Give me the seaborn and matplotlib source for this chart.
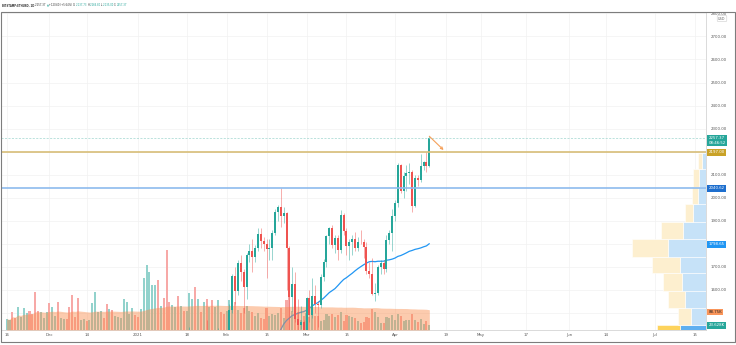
import numpy as np
import pandas as pd
import matplotlib
matplotlib.use("Agg")
import matplotlib.pyplot as plt
import seaborn as sns
from matplotlib.transforms import blended_transform_factory, Affine2D, offset_copy
from matplotlib.patches import Rectangle

# ---------------- data ----------------
start_date = "2020-11-16"

opens = [448, 460, 481, 479, 471, 509, 549, 558, 608, 604, 569, 518, 517, 538, 575,
         614, 587, 598, 616, 569, 596, 601, 591, 574, 573, 559, 545, 568, 590, 586, 589, 636, 642, 654, 659, 639, 609, 634, 584, 612, 625, 635, 683, 730, 731, 751,
         737, 730, 775, 978, 1041, 1100, 1208, 1225, 1224, 1281, 1262, 1090, 1043, 1130, 1218, 1171, 1233, 1230, 1257, 1377, 1382, 1121, 1236, 1231, 1391, 1324, 1357, 1253, 1331, 1381, 1378,
         1314, 1369, 1514, 1660, 1594, 1718, 1677, 1614, 1751, 1769, 1743, 1784, 1843, 1813, 1800, 1778, 1781, 1848, 1938, 1960, 1919, 1935, 1781, 1570, 1626, 1475, 1446, 1459,
         1416, 1564, 1492, 1575, 1541, 1533, 1654, 1723, 1835, 1868, 1796, 1826, 1772, 1924, 1854, 1792, 1807, 1823, 1783, 1810, 1806, 1786, 1682, 1669, 1581, 1587, 1701, 1715, 1691, 1817, 1846,
         1919, 1977, 2142, 2028, 2093, 2107, 2112, 1964, 2084, 2076, 2136, 2157, 2137.73]
highs = [463, 484, 495, 482, 512, 551, 560, 612, 621, 617, 576, 530, 546, 580, 616,
         635, 600, 620, 622, 598, 605, 605, 593, 577, 574, 560, 570, 595, 593, 595, 637, 676, 656, 666, 666, 648, 636, 636, 614, 627, 640, 702, 749, 738, 754, 754,
         749, 787, 1011, 1158, 1133, 1210, 1280, 1265, 1300, 1348, 1263, 1150, 1140, 1250, 1250, 1280, 1260, 1275, 1440, 1390, 1385, 1250, 1270, 1410, 1470, 1370, 1358, 1350, 1435, 1400, 1380,
         1375, 1540, 1670, 1700, 1730, 1750, 1690, 1760, 1800, 1820, 1795, 1870, 1870, 1830, 1820, 1820, 1860, 1950, 1970, 2041, 1960, 1938, 1790, 1700, 1680, 1560, 1530, 1470,
         1570, 1600, 1650, 1620, 1550, 1670, 1735, 1840, 1875, 1880, 1840, 1840, 1945, 1935, 1870, 1820, 1840, 1850, 1830, 1860, 1820, 1810, 1720, 1740, 1630, 1710, 1730, 1730, 1840, 1860, 1950,
         1990, 2150, 2145, 2110, 2140, 2150, 2120, 2100, 2100, 2190, 2160, 2200, 2266.80]
lows = [440, 455, 463, 456, 468, 506, 520, 555, 583, 560, 485, 490, 505, 530, 569,
        566, 568, 591, 560, 563, 583, 582, 562, 530, 551, 534, 543, 563, 580, 578, 582, 629, 625, 641, 630, 599, 591, 571, 570, 597, 619, 625, 677, 693, 720, 715,
        716, 715, 768, 900, 984, 1064, 1170, 1100, 1202, 1170, 900, 1010, 1000, 1110, 1080, 1150, 1160, 1190, 1240, 1250, 1100, 1050, 1200, 1220, 1310, 1250, 1220, 1230, 1270, 1320, 1290,
        1290, 1350, 1500, 1540, 1580, 1640, 1500, 1560, 1720, 1680, 1720, 1770, 1780, 1770, 1650, 1730, 1730, 1840, 1900, 1875, 1890, 1600, 1370, 1510, 1460, 1400, 1430, 1290,
        1410, 1460, 1480, 1500, 1440, 1520, 1640, 1700, 1800, 1780, 1760, 1730, 1760, 1840, 1750, 1730, 1750, 1770, 1770, 1800, 1740, 1670, 1650, 1580, 1550, 1580, 1670, 1670, 1680, 1800, 1770,
        1900, 1960, 2020, 2000, 2030, 2060, 1940, 1960, 2050, 2070, 2120, 2110, 2135.00]
closes = [460, 481, 479, 471, 509, 549, 558, 608, 604, 569, 518, 517, 538, 575, 614,
          587, 598, 616, 569, 596, 601, 591, 574, 573, 559, 545, 568, 590, 586, 589, 636, 642, 654, 659, 639, 609, 634, 584, 612, 625, 635, 683, 730, 731, 751, 737,
          730, 775, 978, 1041, 1100, 1208, 1225, 1224, 1281, 1262, 1090, 1043, 1130, 1218, 1171, 1233, 1230, 1257, 1377, 1382, 1121, 1236, 1231, 1391, 1324, 1357, 1253, 1331, 1381, 1378, 1314,
          1369, 1514, 1660, 1594, 1718, 1677, 1614, 1751, 1769, 1743, 1784, 1843, 1813, 1800, 1778, 1781, 1848, 1938, 1960, 1919, 1935, 1781, 1570, 1626, 1475, 1446, 1459, 1416,
          1564, 1492, 1575, 1541, 1533, 1654, 1723, 1835, 1868, 1796, 1826, 1772, 1924, 1854, 1792, 1807, 1823, 1783, 1810, 1806, 1786, 1682, 1669, 1581, 1587, 1701, 1715, 1691, 1817, 1846, 1919,
          1977, 2142, 2028, 2093, 2107, 2112, 1964, 2084, 2076, 2136, 2157, 2138, 2257.37]
# daily volume, thousands of ETH
volumes_k = [55, 50, 90, 60, 112, 66, 107, 82, 94, 80, 189, 94, 90, 60, 90,
             135, 115, 70, 136, 60, 53, 55, 112, 172, 66, 159, 49, 55, 45, 49, 131, 186, 90, 94, 60, 127, 102, 100, 70, 66, 60, 151, 140, 80, 107, 74,
             65, 102, 258, 320, 283, 222, 222, 247, 118, 159, 394, 140, 123, 115, 168, 118, 95, 95, 184, 151, 214, 151, 90, 140, 151, 112, 146, 112, 146, 90, 80,
             95, 150, 130, 140, 100, 85, 110, 120, 95, 90, 70, 85, 60, 55, 110, 70, 80, 75, 85, 110, 60, 150, 185, 95, 80, 90, 50, 70,
             85, 65, 75, 70, 70, 45, 50, 80, 70, 80, 65, 75, 90, 45, 75, 70, 65, 60, 45, 35, 40, 65, 60, 105, 90, 65, 35, 35, 65, 60, 75,
             50, 80, 70, 45, 50, 50, 80, 50, 40, 55, 30, 45, 23.628]

tick_dates = ["2020-11-16", "2020-12-01", "2020-12-14", "2021-01-01", "2021-01-18", "2021-02-01",
              "2021-02-15", "2021-03-01", "2021-03-15", "2021-04-01", "2021-04-19", "2021-05-01",
              "2021-05-17", "2021-06-01", "2021-06-14", "2021-07-01", "2021-07-15"]
tick_labels = ["16", "Dec", "14", "2021", "18", "Feb", "15", "Mar", "15", "Apr", "19", "May",
               "17", "Jun", "14", "Jul", "15"]
grid_prices = [1500, 1600, 1700, 1800, 1900, 2000, 2100, 2200, 2300, 2400, 2500, 2600, 2700, 2800]
price_ticks = [1600, 1700, 1900, 2000, 2100, 2300, 2400, 2500, 2600, 2700, 2800]

level_gold = 2197.00
level_blue = 2040.62
last_price = 2257.37
countdown = "08:46:52"
sma_label = 1798.65
vol_ma_label_k = 88.75
last_vol_k = 23.628

# visible-range volume profile rows (price edges) and up/down volume (K)
vp_edges = [1372, 1448, 1522, 1596, 1674, 1743, 1822, 1895, 1973, 2047, 2125, 2194]
vp_up = [520, 300, 420, 480, 520, 760, 460, 260, 160, 140, 80]
vp_down = [460, 260, 340, 380, 560, 720, 440, 160, 120, 120, 80]
vp_value_area = [True, False, False, False, False, False, False, False, False, False, False]

arrow_dates = ["2021-04-13", "2021-04-18"]
arrow_prices = [2266.8, 2207.0]

# ---------------- frame ----------------
ref = pd.Timestamp("2021-01-01")
dates = pd.date_range(start_date, periods=len(closes), freq="D")
df = pd.DataFrame({"date": dates, "open": opens, "high": highs, "low": lows,
                   "close": closes, "vol": volumes_k})
df["x"] = (df["date"] - ref).dt.days.astype(float)
df["up"] = df["close"] >= df["open"]
df["sma50"] = df["close"].rolling(50).mean()
df["vol_ma"] = df["vol"].rolling(100, min_periods=1).mean()

UP, DOWN = "#26a69a", "#ef5350"
UP_L, DOWN_L = "#92d2cc", "#f7a9a7"

sns.set_theme(style="white")
plt.rcParams["font.family"] = ["DejaVu Sans"]

W, H = 736, 345
fig = plt.figure(figsize=(W / 100, H / 100), dpi=100)
fig.patch.set_facecolor("white")
ax = fig.add_axes([1 / W, 15 / H, 705 / W, 318 / H])
ax.set_facecolor("white")

XMIN, XMAX = -47.97, 198.88
YMIN, YMAX = 1426.2, 2805.9
VOL_TOP = 1565.0

tick_x = [(pd.Timestamp(d) - ref).days for d in tick_dates]

# grid
for p in grid_prices:
    ax.axhline(p, color="#f2f2f2", lw=0.5, zorder=0)
for tx in tick_x:
    ax.axvline(tx, color="#f2f2f2", lw=0.5, zorder=0)

vol_trans = blended_transform_factory(ax.transData, Affine2D().scale(1, 1 / VOL_TOP) + ax.transAxes)

# volume bars
ax.bar(df["x"], df["vol"], width=0.72, color=np.where(df["up"], UP_L, DOWN_L),
       transform=vol_trans, zorder=1, linewidth=0)

# 50 SMA
sns.lineplot(data=df, x="x", y="sma50", ax=ax, color="#2196f3", lw=0.9, zorder=2, legend=False)

# volume MA area
ax.fill_between(df["x"], 0, df["vol_ma"], transform=vol_trans, color="#fa8c4c",
                alpha=0.45, lw=0, zorder=3)

# volume profile
S = 14100.0
vp_trans = blended_transform_factory(Affine2D().scale(-1.0 / S, 1).translate(1, 0) + ax.transAxes,
                                     ax.transData)
for i in range(len(vp_up)):
    lo, hi = vp_edges[i], vp_edges[i + 1]
    cu = "#5eaff0" if vp_value_area[i] else "#c6e2f8"
    cd = "#fdd35c" if vp_value_area[i] else "#fdefcf"
    ax.barh(lo, vp_up[i], height=hi - lo, left=0, align="edge", color=cu,
            edgecolor="white", lw=0.4, transform=vp_trans, zorder=2.5)
    ax.barh(lo, vp_down[i], height=hi - lo, left=vp_up[i], align="edge", color=cd,
            edgecolor="white", lw=0.4, transform=vp_trans, zorder=2.5)

# candles
ax.vlines(df["x"], df["low"], df["high"], colors=np.where(df["up"], UP, DOWN),
          lw=0.6, alpha=0.55, zorder=4)
body_lo = np.minimum(df["open"], df["close"])
body_h = np.maximum(np.abs(df["close"] - df["open"]), 2.0)
ax.bar(df["x"], body_h, bottom=body_lo, width=0.7,
       color=np.where(df["up"], UP, DOWN), lw=0, zorder=5)

# horizontal levels
ax.axhline(level_gold, color="#d7bd78", lw=1.2, zorder=6)
ax.axhline(level_blue, color="#8dbbee", lw=1.2, zorder=6)
ax.axhline(last_price, color="#9fd6cf", lw=0.5, ls=(0, (3, 2)), zorder=6)

# arrow
arr_x = [(pd.Timestamp(d) - ref).days for d in arrow_dates]
ax.annotate("", xy=(arr_x[1], arrow_prices[1]), xytext=(arr_x[0], arrow_prices[0]),
            arrowprops=dict(arrowstyle="->", color="#f5a05a", lw=0.8, mutation_scale=4,
                            shrinkA=0, shrinkB=0), zorder=7)

ax.set_xlim(XMIN, XMAX)
ax.set_ylim(YMIN, YMAX)
ax.set_xticks(tick_x)
ax.set_xticklabels(tick_labels)
ax.yaxis.tick_right()
ax.set_yticks(price_ticks)
ax.set_yticklabels([f"{p:.2f}" for p in price_ticks])
ax.tick_params(axis="x", length=0, pad=2.5, labelsize=2.8, labelcolor="#555555")
ax.tick_params(axis="y", length=0, pad=3.5, labelsize=2.8, labelcolor="#555555")
ax.set_xlabel("")
ax.set_ylabel("")
for side in ["left", "top"]:
    ax.spines[side].set_visible(False)
for side in ["bottom", "right"]:
    ax.spines[side].set_color("#d4d4d4")
    ax.spines[side].set_linewidth(0.6)

# right-side value boxes
lab_tr = offset_copy(blended_transform_factory(ax.transAxes, ax.transData), fig=fig, x=2.5, y=0, units="dots")
vol_lab_tr = offset_copy(blended_transform_factory(ax.transAxes, Affine2D().scale(1, 1 / VOL_TOP) + ax.transAxes),
                         fig=fig, x=2.5, y=0, units="dots")

def box(y, text, fc, tc="white", tr=lab_tr, va="center"):
    ax.text(1.0, y, text, transform=tr, fontsize=2.8, color=tc, ha="left", va=va,
            linespacing=1.3, clip_on=False, zorder=20,
            bbox=dict(boxstyle="square,pad=0.35", fc=fc, ec="none"))

ax.text(1.0, last_price, f"{last_price:.2f}\n{countdown}",
        transform=offset_copy(blended_transform_factory(ax.transAxes, ax.transData), fig=fig, x=2.5, y=2.5, units="dots"),
        fontsize=2.8, color="white", ha="left", va="top", linespacing=1.4, clip_on=False, zorder=20,
        bbox=dict(boxstyle="square,pad=0.35", fc="#26a69a", ec="none"))
box(level_gold, f"{level_gold:.2f}", "#c9a227")
box(level_blue, f"{level_blue:.2f}", "#1e6fce")
box(sma_label, f"{sma_label:.2f}", "#2196f3")
box(vol_ma_label_k, f"{vol_ma_label_k:.2f}K", "#f9955a", tc="#222222", tr=vol_lab_tr)
box(last_vol_k, f"{last_vol_k:.3f}K", "#26a69a", tr=vol_lab_tr)

fig.text(722 / W, 1 - 18.5 / H, "USD", fontsize=2.5, color="#666666", ha="center", va="center",
         bbox=dict(boxstyle="round,pad=0.3", fc="white", ec="#cccccc", lw=0.4))

# header line
renderer = fig.canvas.get_renderer()
pieces = [("BITSTAMP:ETHUSD, 1D ", "#333333", "bold"), ("2257.37 ", "#333333", "normal"),
          ("\u25B2", UP, "normal"), (" +120.60 (+5.64%) ", "#333333", "normal"),
          ("O:", "#333333", "normal"), ("2137.73 ", UP, "normal"),
          ("H:", "#333333", "normal"), ("2266.80 ", UP, "normal"),
          ("L:", "#333333", "normal"), ("2135.00 ", UP, "normal"),
          ("C:", "#333333", "normal"), ("2257.37", UP, "normal")]
xp = 2.0
for txt, col, wt in pieces:
    t = fig.text(xp / W, 1 - 5.5 / H, txt, color=col, fontsize=1.85, fontweight=wt,
                 ha="left", va="center")
    bb = t.get_window_extent(renderer)
    xp = bb.x1

# outer frame
fig.patches.append(Rectangle((1 / W, 3 / H), 734 / W, 330 / H, transform=fig.transFigure,
                             fill=False, ec="#7d7d7d", lw=0.8, zorder=30))

fig.savefig("out.png", dpi=100, facecolor="white")
